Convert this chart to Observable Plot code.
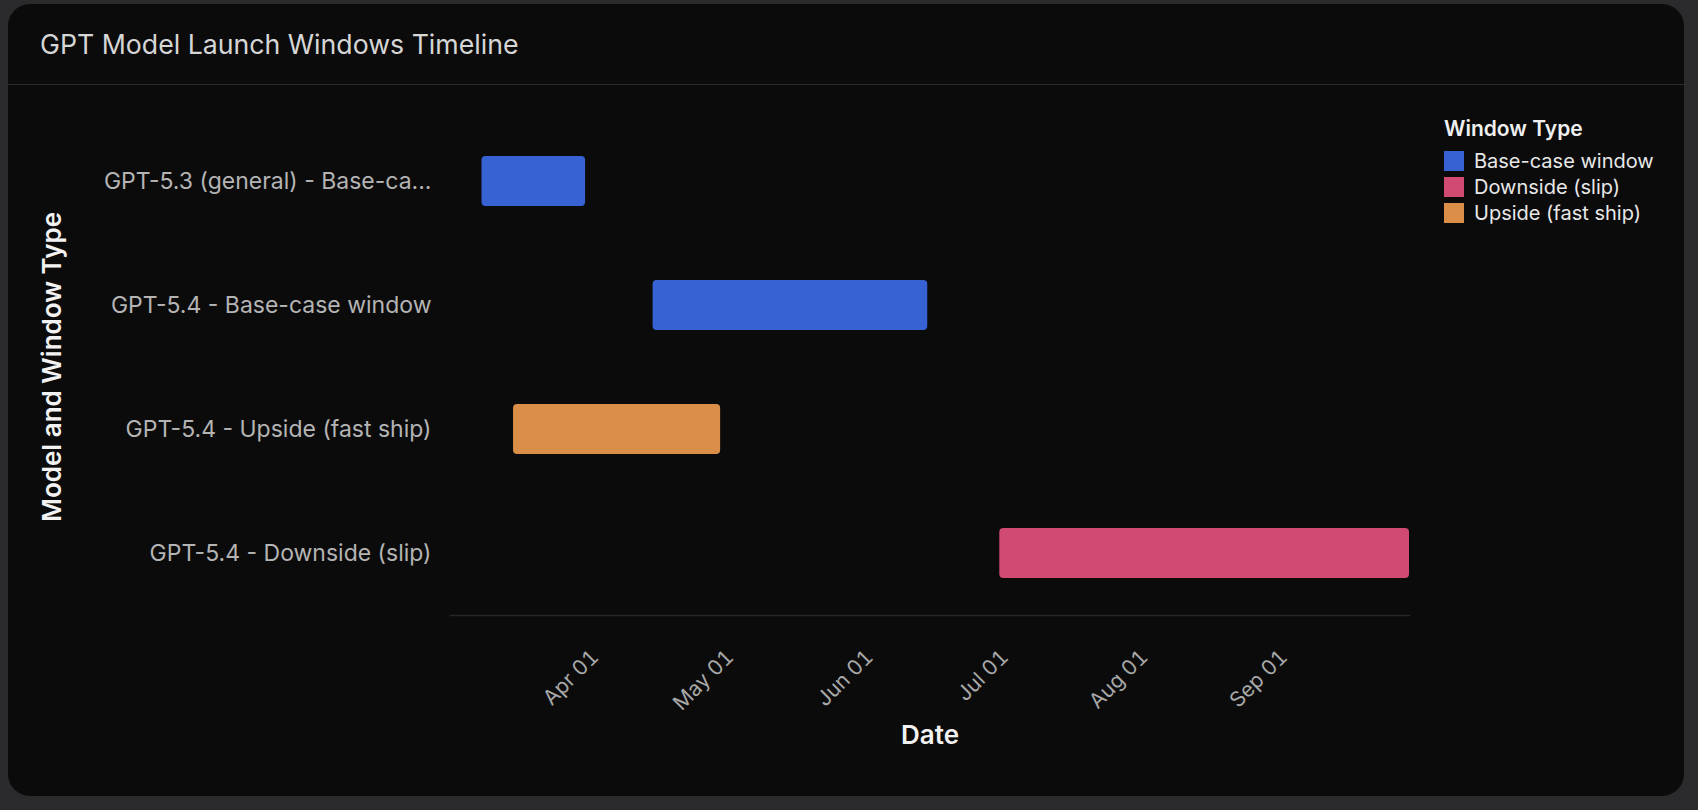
<!DOCTYPE html>
<html>
<head>
<meta charset="utf-8">
<script src="https://cdn.jsdelivr.net/npm/d3@7"></script>
<script src="https://cdn.jsdelivr.net/npm/@observablehq/plot@0.6"></script>
<style>
  html, body { margin:0; padding:0; background:#2b2b2d; width:1698px; height:810px; overflow:hidden; font-family: Inter, "Noto Sans", sans-serif; }
  #card { position:absolute; left:8px; top:4px; width:1676px; height:792px; background:#0b0b0b; border-radius:22px; overflow:hidden; }
  #title { position:absolute; left:0; top:0; width:100%; height:81px; border-bottom:1px solid #2c2c2e; box-sizing:border-box; }
  #title span { position:absolute; left:32px; top:0; line-height:80px; font-size:26.7px; color:#d6d6d6; }
  #chart { position:absolute; left:-8px; top:81px; width:1698px; }
  #chart svg { max-width:none !important; }
  #legend { position:absolute; left:1436px; top:114px; color:#e8e8e8; }
  #legend .lt { font-size:21px; font-weight:600; line-height:21px; height:21px; margin-bottom:9px; color:#f0f0f0; }
  #legend .row { display:flex; align-items:center; height:26px; font-size:20px; }
  #legend .sw { width:20px; height:20px; margin-right:10px; }
</style>
</head>
<body>
<div id="card">
  <div id="title"><span>GPT Model Launch Windows Timeline</span></div>
  <div id="chart"></div>
  <div id="legend"></div>
</div>
<script>
// ---- data ----
const rowLabels = [
  "GPT-5.3 (general) - Base-case window",
  "GPT-5.4 - Base-case window",
  "GPT-5.4 - Upside (fast ship)",
  "GPT-5.4 - Downside (slip)"
];
const windowTypes = ["Base-case window", "Base-case window", "Upside (fast ship)", "Downside (slip)"];
const startDates = ["2026-03-08", "2026-04-15", "2026-03-15", "2026-07-01"];
const endDates   = ["2026-03-31", "2026-06-15", "2026-04-30", "2026-09-30"];
const legendTypes = ["Base-case window", "Downside (slip)", "Upside (fast ship)"];
const legendColors = ["#3762d3", "#d14a71", "#db8e48"];
const xTickDates = ["2026-04-01", "2026-05-01", "2026-06-01", "2026-07-01", "2026-08-01", "2026-09-01"];
const xDomain = ["2026-03-01", "2026-09-30"];

const parse = d3.utcParse("%Y-%m-%d");
const data = rowLabels.map((label, i) => ({
  label, type: windowTypes[i], start: parse(startDates[i]), end: parse(endDates[i])
}));
const truncate = s => s.length > 28 ? s.slice(0, 27) + "..." : s;

const chart = Plot.plot({
  width: 1698,
  height: 700,
  marginLeft: 450,
  marginRight: 289,
  marginTop: 33,
  marginBottom: 170,
  style: { background: "transparent", fontFamily: "Inter, 'Noto Sans', sans-serif", overflow: "visible", maxWidth: "none" },
  x: { type: "utc", domain: xDomain.map(parse) },
  y: { domain: rowLabels, paddingInner: 0.6, paddingOuter: 0.3 },
  color: { domain: legendTypes, range: legendColors },
  marks: [
    Plot.frame({ anchor: "bottom", stroke: "#262628", strokeWidth: 1.5 }),
    Plot.barX(data, { y: "label", x1: "start", x2: "end", fill: "type", rx: 4 }),
    Plot.axisX({
      ticks: xTickDates.map(parse), tickFormat: d3.utcFormat("%b %d"),
      tickRotate: -45, tickSize: 0, tickPadding: 38, dx: 5,
      fill: "#a8a8a8", fontSize: 21, label: null
    }),
    Plot.axisY({
      tickSize: 0, tickPadding: 19, tickFormat: truncate,
      fill: "#b4b4b4", fontSize: 23, label: null
    }),
    Plot.text(["Date"], { text: d => d, frameAnchor: "bottom", dy: 128.5, fontSize: 26, fontWeight: 600, fill: "#f2f2f2" }),
    Plot.text(["Model and Window Type"], { text: d => d, frameAnchor: "left", textAnchor: "middle", dx: -398, rotate: -90, fontSize: 26, fontWeight: 600, fill: "#f2f2f2" })
  ]
});
document.getElementById("chart").appendChild(chart);

// ---- legend ----
const lg = d3.select("#legend");
lg.append("div").attr("class", "lt").text("Window Type");
legendTypes.forEach((t, i) => {
  const r = lg.append("div").attr("class", "row");
  r.append("div").attr("class", "sw").style("background", legendColors[i]);
  r.append("span").text(t);
});
</script>
</body>
</html>
